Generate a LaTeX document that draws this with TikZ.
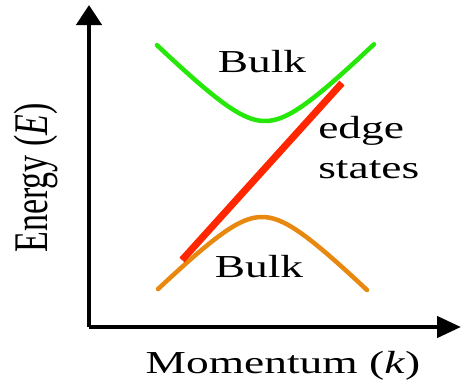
\documentclass[tikz,border=0pt]{standalone}
\usepackage{fontspec}
\setmainfont{Liberation Serif}
\usepackage{tikz}
\usetikzlibrary{arrows.meta}
\definecolor{bulkgreen}{RGB}{38,232,8}
\definecolor{bulkorange}{RGB}{232,136,14}
\definecolor{edgered}{RGB}{255,38,0}

\begin{document}
\begin{tikzpicture}[x=1pt, y=-1pt,
  axis/.style={line width=4.5pt},
  band/.style={line width=4.5pt, line cap=round},
  lbl/.style={font=\fontsize{32}{40}\selectfont, xscale=1.42, transform shape, inner sep=0pt}]
\useasboundingbox (0,0) rectangle (461,384);
\coordinate (o) at (89,327);
\coordinate (ytip) at (89,5);
\coordinate (xtip) at (461,327);
\draw[axis, -{Triangle[length=20pt, width=25pt]}] (o) -- (ytip);
\draw[axis, -{Triangle[length=24pt, width=21pt]}] (o) -- (xtip);
% bulk bands
\draw[band, bulkgreen] plot[domain=-108:109, samples=80] ({265+\x},{121-(sqrt(39*39+\x*\x)-39)});
\draw[band, bulkorange] plot[domain=-104:105, samples=80] ({262+\x},{217+(sqrt(39*39+\x*\x)-39)});
% edge state
\coordinate (elo) at (182,260);
\coordinate (ehi) at (342,83);
\draw[edgered, line width=7pt] (elo) -- (ehi);
\node[lbl, anchor=base] (bulkhi) at (262,72) {Bulk};
\node[lbl, anchor=base] (bulklo) at (259,277) {Bulk};
\node[lbl, anchor=north west, align=left] (edge) at (318,116) {edge\\states};
\node[lbl, anchor=base] (mom) at (283,373) {Momentum (\textit{k})};
\node[lbl, font=\fontsize{34}{40}\selectfont, rotate=90, anchor=base] (en) at (47,178) {Energy (\textit{E})};
\end{tikzpicture}
\end{document}
